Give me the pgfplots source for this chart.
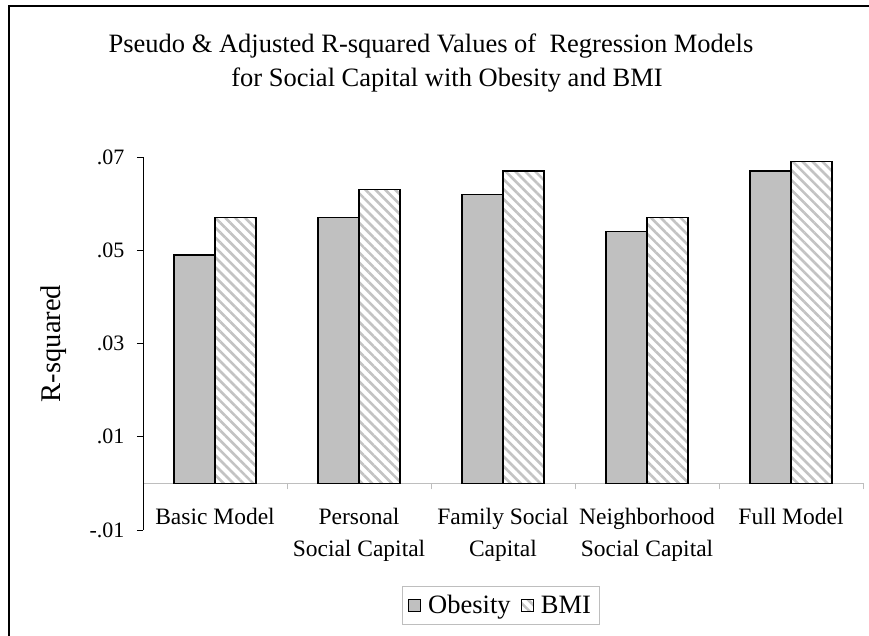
\documentclass[border=0pt]{standalone}
\usepackage{fontspec}
\setmainfont{Liberation Serif}
\usepackage{pgfplots}
\pgfplotsset{compat=1.18}
\usetikzlibrary{patterns.meta,calc}
\definecolor{obes}{RGB}{192,192,192}
\definecolor{hatchc}{RGB}{195,195,195}
\definecolor{axgray}{RGB}{190,190,190}
\begin{document}
\begin{tikzpicture}
\begin{axis}[
  width=720bp, height=373bp, scale only axis,
  ymin=-0.01, ymax=0.07, xmin=-0.5, xmax=4.5,
  ybar=0pt, bar width=41bp,
  axis y line*=left, axis x line*=middle,
  hide obscured x ticks=false,
  hide obscured y ticks=false,
  x axis line style={axgray, line width=0.8bp},
  y axis line style={black, line width=0.8bp},
  tick align=outside,
  major tick length=6bp,
  xtick={-0.5,0.5,1.5,2.5,3.5,4.5},
  x tick label as interval,
  xticklabels={Basic Model, {Personal\\Social Capital}, {Family Social\\Capital}, {Neighborhood\\Social Capital}, Full Model},
  x tick style={axgray, line width=0.8bp},
  x tick label style={font=\fontsize{23.5bp}{32bp}\selectfont, align=center, anchor=north, yshift=-15bp},
  ytick={-0.01,0.01,0.03,0.05,0.07},
  yticklabels={-.01,.01,.03,.05,.07},
  scaled y ticks=false,
  y tick style={black, line width=0.8bp},
  y tick label style={font=\fontsize{22bp}{26bp}\selectfont, xshift=-9bp},
  ylabel={R-squared},
  ylabel style={at={(axis description cs:-0.1236,0.5)}, anchor=center, font=\fontsize{28.5bp}{32bp}\selectfont},
  legend style={at={(axis description cs:0.4965,-0.150)}, anchor=north, legend columns=-1, draw=axgray, line width=0.8bp, font=\fontsize{26.5bp}{30bp}\selectfont, inner xsep=6bp, inner ysep=7bp, /tikz/every odd column/.append style={column sep=5bp}, /tikz/every even column/.append style={column sep=8bp}},
  legend image code/.code={\draw[#1, line width=1.2bp] (0bp,-6bp) rectangle (12bp,6bp);},
]
\addplot[fill=obes, draw=black, line width=1.5bp] coordinates {(0,0.049) (1,0.057) (2,0.062) (3,0.054) (4,0.067)};
\addplot[pattern={Lines[angle=-45,distance=7bp,line width=2.6bp]}, pattern color=hatchc, draw=black, line width=1.5bp] coordinates {(0,0.057) (1,0.063) (2,0.067) (3,0.057) (4,0.069)};
\legend{Obesity, BMI}
\coordinate (O) at (rel axis cs:0,0);
\end{axis}
\begin{scope}[shift={($(O)+(-143bp,-106bp)$)}, x=1bp, y=1bp]
\draw[line width=1.2bp] (9,-5) -- (9,630) -- (875,630);
\node[anchor=base, inner sep=0pt, font=\fontsize{26.5bp}{30bp}\selectfont] at (431,583) {Pseudo \& Adjusted R-squared Values of\ \ Regression Models};
\node[anchor=base, inner sep=0pt, font=\fontsize{26.5bp}{30bp}\selectfont] at (447,549) {for Social Capital with Obesity and BMI};
\pgfresetboundingbox
\useasboundingbox (0,0) rectangle (869,636);
\end{scope}
\end{tikzpicture}
\end{document}
